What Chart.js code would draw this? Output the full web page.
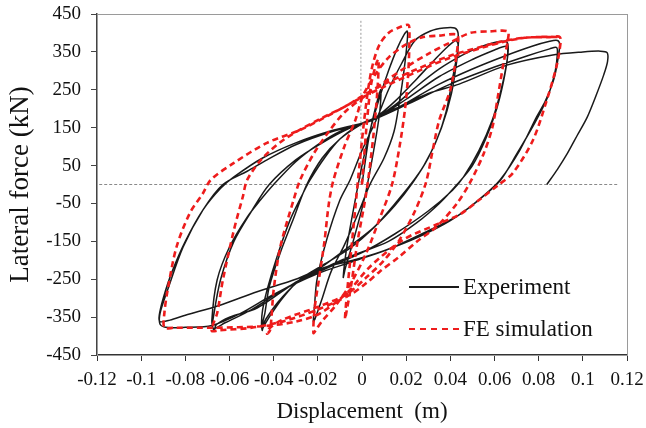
<!DOCTYPE html>
<html>
<head>
<meta charset="utf-8">
<script src="https://cdn.jsdelivr.net/npm/chart.js@4.4.1/dist/chart.umd.min.js"></script>
<style>
  html, body { margin: 0; padding: 0; background: #fff; }
  #wrap { position: relative; width: 646px; height: 428px; }
  #legend {
    position: absolute; left: 409px; top: 266px;
    font-family: "Liberation Serif", "Times New Roman", serif;
    font-size: 23px; color: #111;
  }
  #legend .item { display: flex; align-items: center; height: 42px; }
  #legend .swatch { width: 50px; height: 0; margin-right: 4px; }
</style>
</head>
<body>
<div id="wrap">
  <canvas id="chart" width="646" height="428"></canvas>
  <div id="legend"></div>
</div>
<script>
// Axis ticks
const xTickValues = [-0.12, -0.1, -0.08, -0.06, -0.04, -0.02, 0, 0.02, 0.04, 0.06, 0.08, 0.1, 0.12];
const xTickLabels = ['-0.12', '-0.1', '-0.08', '-0.06', '-0.04', '-0.02', '0', '0.02', '0.04', '0.06', '0.08', '0.1', '0.12'];
const yTickValues = [-450, -350, -250, -150, -50, 50, 150, 250, 350, 450];

// Reference lines (dotted grey in the original)
const zeroLineDisp  = [-0.119, 0.116];
const zeroLineForce = [0, 0];
const axisLineDisp  = [-0.0005, -0.0005];
const axisLineForce = [432, 0];

// Experiment: displacement (m), lateral force (kN), read in loading order
const expPath = [
  [0,0],[0.003,120],[0.006,200],[0.0085,250],
  [0.008,190],[0.005,80],[0.001,-40],[-0.004,-150],[-0.0075,-220],[-0.0085,-245],
  [-0.007,-170],[-0.004,-70],[0,50],[0.004,150],[0.008,230],[0.012,300],[0.016,360],[0.019,395],[0.0205,405],
  [0.0205,380],[0.019,300],[0.017,220],[0.0145,140],[0.01,70],[0.0036,0],[-0.002,-80],[-0.008,-160],[-0.014,-230],[-0.018,-300],[-0.021,-350],[-0.022,-362],
  [-0.0215,-320],[-0.0204,-252],[-0.016,-146],[-0.010,-41],[-0.0054,12],[0,90],[0.0068,175],[0.012,250],[0.018,320],[0.024,380],[0.031,405],[0.037,413],[0.042,413],[0.0435,400],
  [0.0435,360],[0.041,280],[0.038,190],[0.034,120],[0.028,50],[0.022,0],[0.015,-50],[0.006,-110],[-0.0054,-168],[-0.0176,-212],[-0.028,-250],[-0.036,-300],[-0.042,-350],[-0.0448,-378],[-0.0452,-385],
  [-0.0455,-365],[-0.045,-330],[-0.043,-278],[-0.0385,-191],[-0.0326,-94],[-0.0267,-23],[-0.0235,12],[-0.017,70],[-0.01,120],[-0.002,155],[0.0068,180],[0.015,220],[0.025,280],[0.033,330],[0.039,365],[0.0425,380],[0.0435,370],
  [0.043,330],[0.0405,240],[0.036,150],[0.03,70],[0.023,5],[0.015,-55],[0.005,-115],[-0.006,-165],[-0.0176,-215],[-0.03,-262],[-0.038,-310],[-0.0435,-355],[-0.0455,-378],
  [-0.044,-340],[-0.042,-270],[-0.037,-180],[-0.031,-90],[-0.025,0],[-0.018,70],[-0.01,120],[0,160],[0.0068,178],[0.015,210],[0.025,260],[0.035,305],[0.045,340],[0.053,362],[0.06,375],[0.0645,378],[0.066,372],
  [0.066,340],[0.064,270],[0.061,200],[0.056,120],[0.05,50],[0.043,0],[0.035,-50],[0.025,-100],[0.012,-150],[-0.0054,-190],[-0.0176,-222],[-0.03,-258],[-0.0475,-326],[-0.06,-350],[-0.066,-370],[-0.067,-385],
  [-0.068,-360],[-0.0656,-252],[-0.060,-165],[-0.052,-86],[-0.046,-41],[-0.040,0],[-0.03,60],[-0.02,105],[-0.01,140],[0,160],[0.0068,175],[0.02,225],[0.035,285],[0.05,330],[0.06,355],[0.065,365],[0.066,355],
  [0.0655,320],[0.063,250],[0.059,170],[0.053,90],[0.046,20],[0.041,-15],[0.03,-70],[0.015,-130],[0,-180],[-0.0176,-225],[-0.035,-275],[-0.05,-330],[-0.062,-365],[-0.0675,-380],
  [-0.067,-340],[-0.064,-250],[-0.058,-150],[-0.05,-70],[-0.042,0],[-0.03,65],[-0.018,110],[-0.005,150],[0.0068,175],[0.02,215],[0.035,265],[0.05,305],[0.065,340],[0.077,365],[0.085,378],[0.0885,380],[0.0895,370],
  [0.089,340],[0.087,280],[0.083,220],[0.079,178],[0.0715,91],[0.0625,12],[0.055,-30],[0.044,-80],[0.029,-125],[0.011,-173],[-0.004,-200],[-0.0176,-220],[-0.03,-250],[-0.0475,-283],[-0.065,-320],[-0.08,-345],[-0.087,-358],[-0.0915,-362],
  [-0.0918,-345],[-0.09,-300],[-0.086,-230],[-0.08,-150],[-0.072,-67],[-0.064,-10],[-0.058,20],[-0.045,70],[-0.03,110],[-0.015,140],[0,162],[0.0068,175],[0.02,210],[0.04,265],[0.06,310],[0.075,340],[0.085,358],[0.088,362],[0.0885,350],
  [0.0875,300],[0.084,230],[0.078,160],[0.07,80],[0.0625,10],[0.052,-45],[0.04,-95],[0.025,-140],[0.01,-175],[-0.005,-205],[-0.02,-235],[-0.04,-290],[-0.055,-340],[-0.068,-372],[-0.08,-377],[-0.089,-377],[-0.0915,-368],
  [-0.0914,-339],[-0.088,-278],[-0.081,-165],[-0.072,-67],[-0.063,0],[-0.052,35],[-0.043,65],[-0.03,105],[-0.0145,138],[0,160],[0.015,200],[0.03,240],[0.044,265],[0.0656,315],[0.0864,342],[0.1,350],[0.108,352],[0.111,348],
  [0.1112,325],[0.1095,290],[0.106,235],[0.102,178],[0.0975,130],[0.093,82],[0.0885,40],[0.0837,0]
];

// FE simulation: displacement (m), lateral force (kN)
const fePath = [
  [0,0],[0.002,150],[0.004,260],[0.0065,320],[0.0075,330],
  [0.007,250],[0.005,120],[0.002,-20],[-0.002,-150],[-0.005,-270],[-0.007,-335],[-0.0077,-355],
  [-0.007,-300],[-0.005,-180],[-0.003,-60],[-0.001,60],[0.001,170],[0.003,260],[0.005,320],[0.008,370],[0.012,400],[0.017,415],[0.021,421],
  [0.0215,400],[0.021,300],[0.0195,200],[0.017,100],[0.0136,0],[0.008,-90],[0.002,-180],[-0.005,-260],[-0.012,-320],[-0.018,-360],[-0.021,-385],[-0.022,-392],
  [-0.0215,-330],[-0.0195,-250],[-0.017,-150],[-0.015,-50],[-0.013,10],[-0.008,100],[-0.003,170],[0.0005,235],[0.006,290],[0.012,335],[0.02,370],[0.027,388],[0.035,393],[0.043,396],
  [0.0435,380],[0.0425,330],[0.04,250],[0.035,170],[0.032,90],[0.029,6],[0.024,-70],[0.017,-146],[0.01,-200],[0.002,-245],[-0.007,-290],[-0.02,-323],[-0.036,-357],[-0.042,-380],[-0.043,-394],
  [-0.0416,-384],[-0.040,-278],[-0.037,-165],[-0.031,-41],[-0.028,12],[-0.022,80],[-0.015,140],[-0.008,190],[0.0005,230],[0.01,270],[0.02,310],[0.03,345],[0.04,375],[0.049,400],[0.058,404],[0.066,404],
  [0.066,380],[0.064,318],[0.0615,231],[0.059,150],[0.055,80],[0.049,6],[0.043,-50],[0.034,-110],[0.025,-150],[0.017,-190],[0.008,-230],[0.002,-260],[-0.005,-290],[-0.02,-330],[-0.035,-360],[-0.05,-378],[-0.065,-385],[-0.068,-387],
  [-0.0675,-370],[-0.0656,-340],[-0.063,-252],[-0.058,-120],[-0.054,-33],[-0.052,12],[-0.045,70],[-0.035,120],[-0.02,170],[-0.008,205],[0.0005,235],[0.01,265],[0.025,305],[0.04,340],[0.055,365],[0.065,380],[0.075,388],[0.085,389],[0.0896,389],
  [0.0896,360],[0.088,310],[0.0837,223],[0.0774,117],[0.0683,30],[0.062,0],[0.053,-41],[0.044,-80],[0.034,-105],[0.0186,-146],[0.0036,-217],[-0.0068,-286],[-0.019,-340],[-0.03,-362],[-0.045,-374],[-0.067,-378],[-0.085,-378],[-0.0895,-378],
  [-0.0895,-340],[-0.088,-278],[-0.084,-165],[-0.078,-76],[-0.072,-23],[-0.0685,12],[-0.058,57],[-0.043,110],[-0.028,144],[-0.013,189],[-0.0023,223],[0.01,258],[0.025,298],[0.04,335],[0.055,362],[0.065,378],[0.075,388],[0.085,390],[0.0896,389]
];

const SERIF = '"Liberation Serif", "Times New Roman", serif';

function toPoints(pairs) {
  return pairs.map(p => ({ x: p[0], y: p[1] }));
}
function zip(xs, ys) {
  return xs.map((x, i) => ({ x, y: ys[i] }));
}

// grey frame on top/right like the source figure
const framePlugin = {
  id: 'frame',
  beforeDatasetsDraw(chart) {
    const { ctx, chartArea: a } = chart;
    ctx.save();
    ctx.strokeStyle = '#9a9a9a';
    ctx.lineWidth = 1;
    ctx.strokeRect(a.left + 0.5, a.top + 0.5, a.right - a.left, a.bottom - a.top);
    ctx.restore();
  }
};

const datasets = [
  {
    label: 'FE simulation',
    data: toPoints(fePath),
    borderColor: '#ee1c1c',
    borderWidth: 2.6,
    borderDash: [6, 4],
    tension: 0.3,
    order: 0
  },
  {
    label: 'Experiment',
    data: toPoints(expPath),
    borderColor: '#1a1a1a',
    borderWidth: 1.5,
    tension: 0.3,
    order: 1
  },
  {
    label: 'zero',
    data: zip(zeroLineDisp, zeroLineForce),
    borderColor: '#8a8a8a',
    borderWidth: 1,
    borderDash: [3, 2],
    order: 2
  },
  {
    label: 'axis',
    data: zip(axisLineDisp, axisLineForce),
    borderColor: '#9a9a9a',
    borderWidth: 1,
    borderDash: [2, 2],
    order: 2
  }
];
datasets.forEach(d => { d.showLine = true; d.pointRadius = 0; d.fill = false; });

new Chart(document.getElementById('chart').getContext('2d'), {
  type: 'scatter',
  data: { datasets },
  options: {
    responsive: false,
    animation: false,
    layout: { padding: { top: 14, right: 19, left: 0, bottom: 0 } },
    plugins: {
      legend: { display: false },
      tooltip: { enabled: false }
    },
    scales: {
      x: {
        type: 'linear',
        min: -0.12, max: 0.12,
        afterBuildTicks: s => { s.ticks = xTickValues.map(v => ({ value: v })); },
        afterFit: s => { s.height = 73; s.paddingLeft = 0; s.paddingRight = 0; },
        ticks: {
          autoSkip: false, maxRotation: 0, padding: 8,
          color: '#111',
          font: { family: SERIF, size: 19 },
          callback: (v, i) => xTickLabels[i]
        },
        grid: { drawOnChartArea: false, drawTicks: true, tickLength: 6, color: '#333' },
        border: { color: '#333', width: 2 },
        title: {
          display: true, text: 'Displacement  (m)', color: '#111',
          font: { family: SERIF, size: 23 }, padding: { top: 0, bottom: 2 }
        }
      },
      y: {
        type: 'linear',
        min: -450, max: 450,
        afterBuildTicks: s => { s.ticks = yTickValues.map(v => ({ value: v })); },
        afterFit: s => { s.width = 97; s.paddingTop = 0; s.paddingBottom = 0; },
        ticks: {
          padding: 10, color: '#111',
          font: { family: SERIF, size: 19 }
        },
        grid: { drawOnChartArea: false, drawTicks: true, tickLength: 6, color: '#444' },
        border: { color: '#444', width: 1.5 },
        title: {
          display: true, text: 'Lateral force (kN)', color: '#111',
          font: { family: SERIF, size: 27 }, padding: { top: 5, bottom: 2 }
        }
      }
    }
  },
  plugins: [framePlugin]
});

// legend, placed inside the plot like the original
const legendItems = [
  { label: 'Experiment', border: '2px solid #1a1a1a' },
  { label: 'FE simulation', border: '2px dashed #ee1c1c' }
];
document.getElementById('legend').innerHTML = legendItems.map(it =>
  '<div class="item"><span class="swatch" style="border-top:' + it.border + '"></span>' + it.label + '</div>'
).join('');
</script>
</body>
</html>
